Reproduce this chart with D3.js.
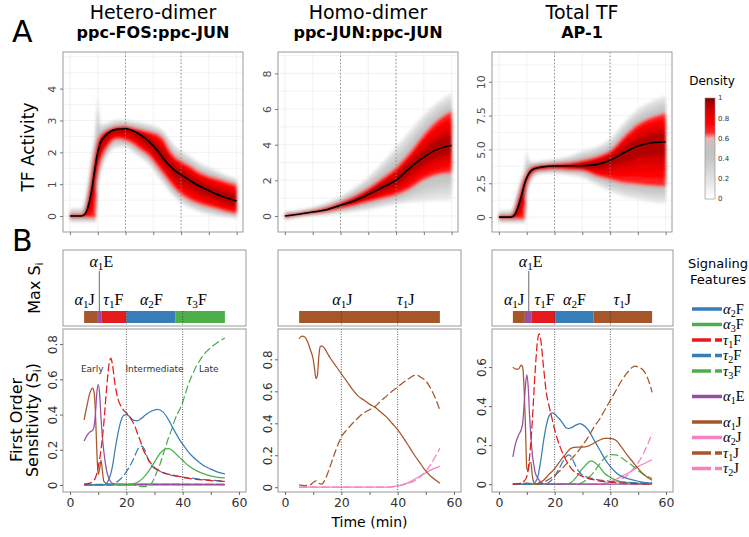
<!DOCTYPE html>
<html><head><meta charset="utf-8">
<script src="https://cdn.jsdelivr.net/npm/d3@7"></script>
<style>body{margin:0;background:#fff}</style>
</head><body>
<svg id="c" width="749" height="537"></svg>
<script>
// ---------------- DATA ----------------
const topTitles = ['Hetero-dimer','Homo-dimer','Total TF'];
const topSubtitles = ['ppc-FOS:ppc-JUN','ppc-JUN:ppc-JUN','AP-1'];

// Panel A: TF activity density bands (time, median, red core band, grey halo band)
const hetT      = [0,4,5,6,7,8,9,9.3,9.7,10,10.5,11,12,14,16.7,20,22,25,28.6,32,34,35.7,38,40.5,43,46.4,49,52.4,56,60];
const hetMed    = [0,0,0.03,0.15,0.45,0.9,1.5,1.65,1.88,2.0,2.15,2.3,2.45,2.62,2.72,2.74,2.7,2.57,2.33,2.0,1.77,1.6,1.42,1.27,1.13,0.95,0.84,0.7,0.58,0.47];
const hetRedLo  = [-0.06,-0.06,-0.06,-0.06,-0.06,-0.06,-0.06,-0.06,1.0,1.2,1.45,1.65,1.9,2.2,2.4,2.36,2.28,2.09,1.85,1.47,1.25,1.05,0.82,0.63,0.5,0.37,0.3,0.22,0.13,0.06];
const hetRedHi  = [0.06,0.06,0.12,0.45,0.95,1.55,2.05,2.2,2.35,2.42,2.5,2.56,2.64,2.74,2.82,2.84,2.8,2.74,2.66,2.56,2.4,2.12,1.86,1.72,1.6,1.4,1.3,1.2,1.1,1.0];
const hetGreyLo = [-0.2,-0.2,-0.2,-0.2,-0.2,-0.2,-0.2,-0.2,0.6,0.9,1.1,1.35,1.6,1.95,2.15,2.15,2.05,1.85,1.6,1.2,0.98,0.78,0.55,0.37,0.25,0.13,0.06,0.0,-0.04,-0.08];
const hetGreyHi = [0.25,0.25,0.4,0.8,1.4,2.1,2.6,2.9,3.5,3.8,3.3,2.9,2.9,2.95,3.02,3.03,3.0,2.95,2.88,2.78,2.65,2.45,2.2,2.05,1.9,1.7,1.58,1.45,1.3,1.18];

const homT      = [0,5,10,15,20,25,30,35,40,45,50,55,60];
const homMed    = [0,0.1,0.22,0.35,0.6,0.85,1.2,1.6,2.0,2.7,3.3,3.75,3.95];
const homRedLo  = [-0.1,0.02,0.12,0.22,0.38,0.55,0.75,0.95,1.15,1.5,2.0,2.3,2.4];
const homRedHi  = [0.1,0.18,0.32,0.5,0.8,1.15,1.6,2.15,2.75,3.6,4.6,5.4,5.9];
const homGreyLo = [-0.25,-0.1,0.0,0.05,0.15,0.25,0.35,0.5,0.65,0.75,0.8,0.85,0.9];
const homGreyHi = [0.25,0.35,0.5,0.75,1.1,1.6,2.2,3.0,3.9,4.8,5.7,6.4,6.9];

const totT      = [0,4,5,6,7,8,9,9.3,9.7,10,11,12,14,16,20,25,30,35,40,45,50,55,60];
const totMed    = [0,0,0.05,0.3,0.8,1.5,2.3,2.5,2.75,2.9,3.3,3.5,3.65,3.72,3.78,3.8,3.8,3.88,4.2,4.75,5.25,5.5,5.55];
const totRedLo  = [-0.15,-0.15,-0.15,-0.15,-0.15,-0.15,-0.15,-0.15,1.6,2.1,2.8,3.15,3.4,3.45,3.5,3.45,3.38,3.0,2.75,2.5,2.4,2.3,2.25];
const totRedHi  = [0.15,0.15,0.3,0.9,1.6,2.3,2.9,3.0,3.15,3.3,3.6,3.75,3.85,3.9,3.98,4.05,4.24,4.5,4.95,6.0,6.9,7.4,7.7];
const totGreyLo = [-0.45,-0.45,-0.45,-0.45,-0.45,-0.45,-0.45,-0.45,1.0,1.5,2.3,2.8,3.1,3.2,3.2,3.1,2.9,2.4,1.9,1.5,1.3,1.1,1.0];
const totGreyHi = [0.5,0.5,0.7,1.4,2.2,2.9,3.5,3.8,4.6,4.8,4.2,4.1,4.15,4.2,4.3,4.5,4.9,5.2,5.8,7.0,8.0,8.6,9.0];

const topYDomains = [[-0.5,5.15],[-0.9,9.2],[-1.1,12.2]];
const topYTicks = [[0,1,2,3,4],[0,2,4,6,8],[0,2.5,5,7.5,10]];
const topYTickLabels = [['0','1','2','3','4'],['0','2','4','6','8'],['0','2.5','5.0','7.5','10']];
const timeTicks = [0,10,20,30,40,50,60];
const timeTickLabels = ['0','','20','','40','','60'];
const phaseTimes = [20,40];

const densityTicks = [0,0.2,0.4,0.6,0.8,1];
const densityStops = [0,0.1,0.25,0.4,0.52,0.6,0.66,0.75,0.85,0.93,1];
const densityColors = ['#ffffff','#f0f0f0','#dadada','#c6c6c6','#c2c2c2','#e6b8b8','#ff2a2a','#ff0000','#e00000','#b80000','#7f0000'];

// Panel B: Max S_i bars
const hetBarFeat  = ['a1J','a1E','t1F','a2F','t3F'];
const hetBarStart = [5,9.6,11.1,20,37.5];
const hetBarEnd   = [9.6,11.1,20,37.5,55];
const hetBarLabels = ['a1J','t1F','a2F','t3F'];
const hetBarLabelT = [5.2,15.4,28.9,45];
const homBarFeat  = ['a1J'];
const homBarStart = [5];
const homBarEnd   = [55];
const homBarLabels = ['a1J','t1J'];
const homBarLabelT = [20.4,42.9];
const totBarFeat  = ['a1J','a1E','t1F','a2F','a1J'];
const totBarStart = [5,9.3,11.8,20.2,34];
const totBarEnd   = [9.3,11.8,20.2,34,55];
const totBarLabels = ['a1J','t1F','a2F','t1J'];
const totBarLabelT = [5.4,16.4,27.1,44.3];
const pointerFeat = 'a1E';
const pointerT = [10.4, null, 10.7];

// First order sensitivity curves [time, S_i]
const het_a2F = [[5,0],[12,0],[13,0.01],[14,0.04],[15,0.1],[16,0.2],[17,0.29],[18,0.36],[19,0.395],[20,0.4],[21,0.39],[22,0.375],[23,0.365],[24,0.365],[25,0.375],[27,0.4],[29,0.42],[31,0.43],[33,0.415],[35,0.37],[37,0.31],[39,0.255],[41,0.21],[43,0.17],[45,0.14],[47,0.115],[50,0.09],[53,0.07],[55,0.063]];
const het_a3F = [[5,0],[20,0],[22,0.005],[24,0.015],[26,0.04],[28,0.08],[30,0.13],[32,0.18],[34,0.205],[35,0.207],[36,0.2],[38,0.17],[40,0.14],[42,0.11],[45,0.08],[48,0.06],[52,0.045],[55,0.04]];
const het_t1F = [[5,0.005],[7,0.01],[8,0.02],[9,0.04],[10,0.1],[11,0.2],[12,0.35],[13,0.55],[14,0.7],[14.5,0.72],[15,0.69],[16,0.57],[17,0.49],[18,0.45],[19,0.425],[20,0.41],[21,0.39],[22,0.365],[23,0.335],[24,0.29],[25,0.25],[26,0.2],[27,0.17],[28,0.14],[30,0.1],[33,0.07],[37,0.055],[41,0.04],[46,0.03],[50,0.025],[55,0.02]];
const het_t2F = [[5,0],[14,0],[16,0.01],[18,0.035],[20,0.075],[22,0.13],[23,0.165],[24,0.2],[25,0.218],[25.5,0.22],[26.5,0.2],[27.5,0.155],[28.5,0.12],[29.5,0.1],[31,0.085],[33,0.07],[36,0.055],[40,0.045],[45,0.035],[50,0.027],[55,0.022]];
const het_t3F = [[5,0],[22,0],[24,-0.005],[26,-0.01],[28,-0.005],[29,0.01],[30,0.04],[31,0.08],[32,0.12],[33,0.17],[34,0.22],[35,0.27],[36,0.31],[37,0.36],[38,0.4],[39,0.43],[40,0.47],[41,0.52],[42,0.57],[43,0.61],[44,0.645],[45,0.68],[46,0.705],[47,0.73],[48,0.75],[50,0.78],[52,0.805],[55,0.835]];
const het_a1E = [[5,0.25],[6,0.28],[7,0.3],[8,0.31],[8.5,0.33],[9,0.4],[9.5,0.52],[10,0.57],[10.5,0.52],[11,0.38],[11.5,0.27],[12,0.19],[12.5,0.13],[13,0.08],[13.5,0.05],[14,0.03],[15,0.01],[17,0.002],[55,0.002]];
const het_a1J = [[5,0.37],[6,0.45],[7,0.52],[8,0.55],[8.5,0.53],[9,0.42],[9.5,0.2],[10,0.06],[10.5,0.09],[11,0.14],[11.5,0.08],[12,0.02],[13,0.008],[15,0.005],[55,0.004]];
const het_a2J = [[5,0.001],[55,0.001]];
const het_t1J = [[5,0.003],[55,0.003]];
const het_t2J = [[5,0.001],[55,0.001]];

const hom_a1J = [[5,0.93],[6,0.945],[7,0.94],[8,0.91],[9,0.86],[10,0.8],[10.5,0.74],[11,0.68],[11.5,0.7],[12,0.82],[12.5,0.88],[13,0.885],[14,0.87],[15,0.84],[16,0.81],[18,0.76],[20,0.71],[22,0.66],[24,0.61],[26,0.57],[28,0.545],[30,0.52],[32,0.5],[34,0.47],[36,0.44],[38,0.4],[40,0.36],[42,0.31],[44,0.255],[46,0.2],[48,0.15],[50,0.1],[52,0.065],[55,0.025]];
const hom_t1J = [[5,0.015],[7,0.01],[9,0.015],[10,0.03],[11,0.04],[12,0.025],[13,0.02],[14,0.04],[15,0.08],[16,0.13],[17,0.18],[18,0.23],[19,0.275],[20,0.315],[22,0.36],[24,0.4],[26,0.435],[28,0.465],[30,0.485],[32,0.505],[34,0.54],[36,0.57],[38,0.6],[40,0.628],[42,0.655],[44,0.68],[46,0.7],[47,0.7],[48,0.69],[50,0.665],[52,0.61],[54,0.53],[55,0.48]];
const hom_a2J = [[5,0],[36,0],[38,0.002],[40,0.008],[42,0.018],[44,0.03],[46,0.05],[48,0.07],[50,0.09],[52,0.11],[55,0.13]];
const hom_t2J = [[5,0],[36,0],[38,0.002],[40,0.008],[42,0.015],[44,0.025],[46,0.04],[48,0.065],[50,0.1],[52,0.15],[55,0.245]];

const tot_a2F = [[5,0],[12,0],[13,0.01],[14,0.04],[15,0.12],[16,0.22],[17,0.3],[18,0.35],[19,0.365],[20,0.36],[21,0.345],[22,0.33],[23,0.31],[24,0.29],[25,0.285],[26,0.29],[28,0.305],[29,0.31],[30,0.305],[32,0.28],[34,0.23],[36,0.18],[38,0.13],[40,0.09],[42,0.06],[44,0.04],[46,0.03],[50,0.015],[55,0.005]];
const tot_a3F = [[5,0],[24,0],[26,0.01],[28,0.04],[30,0.08],[32,0.11],[33,0.12],[34,0.115],[36,0.09],[38,0.055],[40,0.035],[42,0.02],[45,0.01],[50,0.005],[55,0.002]];
const tot_t1F = [[5,0],[8,0.005],[9,0.015],[10,0.04],[11,0.14],[12,0.33],[13,0.58],[14,0.75],[14.5,0.77],[15,0.74],[16,0.6],[17,0.47],[18,0.4],[19,0.34],[20,0.28],[21,0.23],[22,0.19],[23,0.155],[24,0.125],[26,0.08],[28,0.055],[30,0.04],[35,0.02],[40,0.01],[45,0.005],[55,0.0]];
const tot_t2F = [[5,0],[16,0],[18,0.01],[20,0.04],[22,0.09],[24,0.14],[25,0.15],[26,0.14],[27,0.11],[28,0.08],[29,0.06],[30,0.045],[32,0.035],[35,0.025],[40,0.015],[45,0.01],[55,0.005]];
const tot_t3F = [[5,0],[28,0],[30,0.01],[32,0.03],[34,0.06],[36,0.1],[38,0.135],[40,0.152],[42,0.15],[44,0.135],[46,0.115],[48,0.095],[50,0.07],[52,0.05],[55,0.03]];
const tot_a1E = [[5,0.14],[6,0.21],[7,0.25],[8,0.28],[8.5,0.31],[9,0.4],[9.5,0.5],[10,0.56],[10.5,0.5],[11,0.35],[11.5,0.24],[12,0.15],[12.5,0.1],[13,0.06],[14,0.03],[15,0.01],[17,0.0],[55,0]];
const tot_a1J = [[5,0.6],[6,0.59],[7,0.59],[8,0.61],[8.5,0.6],[9,0.5],[9.5,0.3],[10,0.08],[10.5,0.07],[11,0.11],[11.5,0.11],[12,0.04],[12.5,0.01],[13,0.0],[14,0.005],[16,0.02],[18,0.05],[20,0.08],[22,0.12],[24,0.155],[26,0.185],[28,0.19],[30,0.19],[32,0.195],[34,0.21],[36,0.225],[38,0.235],[40,0.235],[42,0.225],[44,0.19],[46,0.15],[48,0.115],[50,0.08],[52,0.05],[55,0.02]];
const tot_t1J = [[5,0.0],[10,0.005],[14,0.0],[16,0.01],[18,0.025],[20,0.045],[22,0.07],[24,0.1],[26,0.13],[28,0.16],[30,0.2],[32,0.24],[34,0.29],[36,0.33],[38,0.38],[40,0.43],[42,0.48],[44,0.53],[46,0.57],[48,0.6],[49,0.605],[50,0.6],[52,0.58],[54,0.52],[55,0.47]];
const tot_a2J = [[5,0],[36,0],[38,0.005],[40,0.012],[42,0.025],[44,0.04],[46,0.055],[48,0.07],[50,0.09],[52,0.105],[55,0.125]];
const tot_t2J = [[5,0],[36,0],[38,0.002],[40,0.006],[42,0.012],[44,0.025],[46,0.045],[48,0.075],[50,0.11],[52,0.16],[55,0.26]];

const botYDomains = [[-0.04,0.886],[-0.03,0.99],[-0.04,0.795]];
const botYTicks = [[0,0.2,0.4,0.6,0.8],[0,0.2,0.4,0.6,0.8],[0,0.2,0.4,0.6]];
const phaseLabels = ['Early','Intermediate','Late'];
const phaseLabelT = [7.9,30,49.3];
const phaseLabelV = [0.64,0.64,0.64];

const legendKeys = ['a2F','a3F','t1F','t2F','t3F','a1E','a1J','a2J','t1J','t2J'];
const legendGroup = [0,0,0,0,0,1,2,2,2,2];

// ---------------- STYLE / LAYOUT ----------------
const C = {blue:'#377eb8',green:'#4daf4a',red:'#e41a1c',purple:'#984ea3',brown:'#a65628',pink:'#f781bf'};
const FEAT = {
  a2F:{c:C.blue,dash:false}, a3F:{c:C.green,dash:false}, t1F:{c:C.red,dash:true},
  t2F:{c:C.blue,dash:true}, t3F:{c:C.green,dash:true}, a1E:{c:C.purple,dash:false},
  a1J:{c:C.brown,dash:false}, a2J:{c:C.pink,dash:false}, t1J:{c:C.brown,dash:true}, t2J:{c:C.pink,dash:true}
};
const SANS = '"DejaVu Sans", Verdana, sans-serif';
const SERIF = '"Liberation Serif", "DejaVu Serif", serif';
const cols = [
  {top:[63,243], bot:[63,246]},
  {top:[278,458], bot:[278,461]},
  {top:[492,672], bot:[492,673]}
];
const TOP = [52,232], BAR = [250,326], BARS = [311,323], BOT = [329,492];

const svg = d3.select('#c');
const defs = svg.append('defs');
defs.append('filter').attr('id','blurD').attr('x','-5%').attr('y','-5%').attr('width','110%').attr('height','110%')
  .append('feGaussianBlur').attr('stdDeviation',1.6);

const densColor = d3.scaleLinear().domain(densityStops).range(densityColors);

// math-style feature label: greek (italic) + subscript digit + roman letter
function mathLabel(sel, key, fs){
  const g = {a:'α', t:'τ'}[key[0]];
  sel.append('tspan').attr('font-style','italic').text(g);
  sel.append('tspan').attr('font-size',(fs*0.7).toFixed(1)).attr('baseline-shift','-25%').text(key[1]);
  sel.append('tspan').text(key[2]);
}

// ---------------- TOP ROW (A) ----------------
const topBands = [
  [hetT,hetMed,hetRedLo,hetRedHi,hetGreyLo,hetGreyHi],
  [homT,homMed,homRedLo,homRedHi,homGreyLo,homGreyHi],
  [totT,totMed,totRedLo,totRedHi,totGreyLo,totGreyHi]
];
topBands.forEach((b,i)=>{
  const [x0,x1] = cols[i].top;
  const x = d3.scaleLinear().domain([-2.5,62.3]).range([x0,x1]);
  const y = d3.scaleLinear().domain(topYDomains[i]).range([TOP[1],TOP[0]]);
  const g = svg.append('g');
  const cid = 'clipTop'+i;
  defs.append('clipPath').attr('id',cid).append('rect').attr('x',x0).attr('y',TOP[0]).attr('width',x1-x0).attr('height',TOP[1]-TOP[0]);
  const grid = g.append('g').attr('stroke','#efefef').attr('stroke-width',0.8);
  d3.range(0,61,10).forEach(t=> grid.append('line').attr('x1',x(t)).attr('x2',x(t)).attr('y1',TOP[0]).attr('y2',TOP[1]));
  const yt = topYTicks[i]; const step = yt[1]-yt[0];
  d3.range(yt[0], topYDomains[i][1], step/2).forEach(v=> grid.append('line').attr('x1',x0).attr('x2',x1).attr('y1',y(v)).attr('y2',y(v)));
  const [T,med,rlo,rhi,glo,ghi] = b;
  const rows = T.map((t,k)=>({t,med:med[k],rlo:rlo[k],rhi:rhi[k],glo:glo[k],ghi:ghi[k]}));
  const dg = g.append('g').attr('clip-path',`url(#${cid})`).append('g').attr('filter','url(#blurD)');
  const levels = [];
  const NO = 9;
  for(let k=0;k<NO;k++){ const f=k/NO; levels.push({lo:r=>r.glo+(r.rlo-r.glo)*f, hi:r=>r.ghi+(r.rhi-r.ghi)*f, d:0.14+0.38*f}); }
  const NI = 4;
  for(let k=0;k<=NI;k++){ const f=k/NI*0.7; levels.push({lo:r=>r.rlo+(r.med-r.rlo)*f, hi:r=>r.rhi+(r.med-r.rhi)*f, d:0.68+0.26*k/NI}); }
  levels.forEach(L=>{
    const area = d3.area().curve(d3.curveMonotoneX).x(r=>x(r.t)).y0(r=>y(L.lo(r))).y1(r=>y(L.hi(r)));
    dg.append('path').attr('d',area(rows)).attr('fill',densColor(L.d));
  });
  phaseTimes.forEach(t=> g.append('line').attr('x1',x(t)).attr('x2',x(t)).attr('y1',TOP[0]).attr('y2',TOP[1])
    .attr('stroke','#888').attr('stroke-width',0.9).attr('stroke-dasharray','1.5,2'));
  const line = d3.line().curve(d3.curveMonotoneX).x(r=>x(r.t)).y(r=>y(r.med));
  g.append('path').attr('d',line(rows)).attr('fill','none').attr('stroke','#000').attr('stroke-width',1.6);
  g.append('rect').attr('x',x0).attr('y',TOP[0]).attr('width',x1-x0).attr('height',TOP[1]-TOP[0]).attr('fill','none').attr('stroke','#9a9a9a');
  const xa = g.append('g').attr('transform',`translate(0,${TOP[1]})`).call(d3.axisBottom(x).tickValues(timeTicks).tickSize(3).tickFormat(''));
  xa.select('.domain').remove(); xa.selectAll('line').attr('stroke','#777');
  const ya = g.append('g').attr('transform',`translate(${x0},0)`).call(d3.axisLeft(y).tickValues(yt).tickSize(3).tickFormat((d,k)=>topYTickLabels[i][k]));
  ya.select('.domain').remove(); ya.selectAll('line').attr('stroke','#777');
  ya.selectAll('text').attr('transform','rotate(-90)').attr('x',0).attr('y',-7).attr('dy',0)
    .attr('text-anchor','middle').attr('font-family',SANS).attr('font-size',11).attr('fill','#4d4d4d');
  const cx = (x0+x1)/2;
  svg.append('text').attr('x',cx).attr('y',19).attr('text-anchor','middle').attr('font-family',SANS).attr('font-size',19).text(topTitles[i]);
  svg.append('text').attr('x',cx).attr('y',38).attr('text-anchor','middle').attr('font-family',SANS).attr('font-weight','bold').attr('font-size',16).text(topSubtitles[i]);
});

// density colourbar
svg.append('text').attr('x',712).attr('y',85).attr('text-anchor','middle').attr('font-family',SANS).attr('font-size',12).text('Density');
const grad = defs.append('linearGradient').attr('id','densGrad').attr('x1',0).attr('x2',0).attr('y1',1).attr('y2',0);
densityStops.forEach((s,k)=> grad.append('stop').attr('offset',s).attr('stop-color',densityColors[k]));
const cbY = d3.scaleLinear().domain([0,1]).range([199,98]);
svg.append('rect').attr('x',705).attr('y',cbY(1)).attr('width',10).attr('height',cbY(0)-cbY(1)).attr('fill','url(#densGrad)').attr('stroke','#888').attr('stroke-width',0.6);
densityTicks.forEach(v=> svg.append('text').attr('x',718).attr('y',cbY(v)).attr('dy','0.35em').attr('font-family',SANS).attr('font-size',7).attr('fill','#333').text(v===0?'0':v===1?'1':v.toFixed(1)));

// ---------------- MIDDLE ROW (B bars) ----------------
const barSets = [
  [hetBarFeat,hetBarStart,hetBarEnd,hetBarLabels,hetBarLabelT],
  [homBarFeat,homBarStart,homBarEnd,homBarLabels,homBarLabelT],
  [totBarFeat,totBarStart,totBarEnd,totBarLabels,totBarLabelT]
];
barSets.forEach((b,i)=>{
  const [x0,x1] = cols[i].bot;
  const x = d3.scaleLinear().domain([-2.5,62.5]).range([x0,x1]);
  const g = svg.append('g');
  g.append('rect').attr('x',x0).attr('y',BAR[0]).attr('width',x1-x0).attr('height',BAR[1]-BAR[0]).attr('fill','none').attr('stroke','#9a9a9a');
  const [feat,st,en,labs,labT] = b;
  feat.forEach((f,k)=> g.append('rect').attr('x',x(st[k])).attr('y',BARS[0]).attr('width',x(en[k])-x(st[k])).attr('height',BARS[1]-BARS[0]).attr('fill',FEAT[f].c));
  labs.forEach((f,k)=>{ const t=g.append('text').attr('x',x(labT[k])).attr('y',305).attr('text-anchor','middle').attr('font-family',SERIF).attr('font-size',16); mathLabel(t,f,16); });
  if(pointerT[i]!==null){
    g.append('line').attr('x1',x(pointerT[i])).attr('x2',x(pointerT[i])).attr('y1',271).attr('y2',BARS[0]).attr('stroke','#444').attr('stroke-width',0.8);
    const t=g.append('text').attr('x',x(pointerT[i])+2).attr('y',267).attr('text-anchor','middle').attr('font-family',SERIF).attr('font-size',16); mathLabel(t,pointerFeat,16);
  }
  phaseTimes.forEach(t=> g.append('line').attr('x1',x(t)).attr('x2',x(t)).attr('y1',BARS[0]).attr('y2',BAR[1]).attr('stroke','#333').attr('stroke-width',0.8).attr('stroke-dasharray','1,1.5'));
});

// ---------------- BOTTOM ROW (sensitivities) ----------------
const botSeries = [
  [['t2J',het_t2J],['a2J',het_a2J],['t1J',het_t1J],['a1J',het_a1J],['a1E',het_a1E],['a3F',het_a3F],['t3F',het_t3F],['t2F',het_t2F],['a2F',het_a2F],['t1F',het_t1F]],
  [['a2J',hom_a2J],['t2J',hom_t2J],['a1J',hom_a1J],['t1J',hom_t1J]],
  [['a2J',tot_a2J],['t2J',tot_t2J],['a3F',tot_a3F],['t3F',tot_t3F],['t2F',tot_t2F],['a2F',tot_a2F],['t1J',tot_t1J],['a1J',tot_a1J],['a1E',tot_a1E],['t1F',tot_t1F]]
];
botSeries.forEach((series,i)=>{
  const [x0,x1] = cols[i].bot;
  const x = d3.scaleLinear().domain([-2.5,62.5]).range([x0,x1]);
  const y = d3.scaleLinear().domain(botYDomains[i]).range([BOT[1],BOT[0]]);
  const g = svg.append('g');
  const cid='clipBot'+i;
  defs.append('clipPath').attr('id',cid).append('rect').attr('x',x0).attr('y',BOT[0]).attr('width',x1-x0).attr('height',BOT[1]-BOT[0]);
  const lg = g.append('g').attr('clip-path',`url(#${cid})`);
  const line = d3.line().curve(d3.curveMonotoneX).x(d=>x(d[0])).y(d=>y(d[1]));
  series.forEach(([k,data])=>{
    lg.append('path').attr('d',line(data)).attr('fill','none').attr('stroke',FEAT[k].c).attr('stroke-width',1.25)
      .attr('stroke-dasharray',FEAT[k].dash?'8,3':null);
  });
  phaseTimes.forEach(t=> g.append('line').attr('x1',x(t)).attr('x2',x(t)).attr('y1',BOT[0]).attr('y2',BOT[1]).attr('stroke','#333').attr('stroke-width',0.8).attr('stroke-dasharray','1,1.5'));
  g.append('rect').attr('x',x0).attr('y',BOT[0]).attr('width',x1-x0).attr('height',BOT[1]-BOT[0]).attr('fill','none').attr('stroke','#9a9a9a');
  const xa = g.append('g').attr('transform',`translate(0,${BOT[1]})`).call(d3.axisBottom(x).tickValues(timeTicks).tickSize(3).tickPadding(3).tickFormat((d,k)=>timeTickLabels[k]));
  xa.select('.domain').remove(); xa.selectAll('line').attr('stroke','#666');
  xa.selectAll('text').attr('font-family',SANS).attr('font-size',12.5).attr('fill','#333');
  const ya = g.append('g').attr('transform',`translate(${x0},0)`).call(d3.axisLeft(y).tickValues(botYTicks[i]).tickSize(3).tickFormat(d=>d===0?'0':d.toFixed(1)));
  ya.select('.domain').remove(); ya.selectAll('line').attr('stroke','#666');
  ya.selectAll('text').attr('transform','rotate(-90)').attr('x',0).attr('y',-6).attr('dy',0)
    .attr('text-anchor','middle').attr('font-family',SANS).attr('font-size',12).attr('fill','#333');
  if(i===0){
    phaseLabels.forEach((s,k)=> g.append('text').attr('x',x(phaseLabelT[k])).attr('y',y(phaseLabelV[k])).attr('text-anchor','middle')
      .attr('font-family',SANS).attr('font-size',9).attr('fill','#333').text(s));
  }
  if(i===1){
    g.append('text').attr('x',(x0+x1)/2).attr('y',527).attr('text-anchor','middle').attr('font-family',SANS).attr('font-size',14).text('Time (min)');
  }
});

// ---------------- labels ----------------
svg.append('text').attr('x',12).attr('y',42).attr('font-family',SANS).attr('font-size',30).text('A');
svg.append('text').attr('x',12).attr('y',251).attr('font-family',SANS).attr('font-size',30).text('B');
svg.append('text').attr('transform','translate(34,147) rotate(-90)').attr('text-anchor','middle').attr('font-family',SANS).attr('font-size',17).text('TF Activity');
const ms = svg.append('text').attr('transform','translate(40,288) rotate(-90)').attr('text-anchor','middle').attr('font-family',SANS).attr('font-size',16);
ms.append('tspan').text('Max S'); ms.append('tspan').attr('font-size',11).attr('baseline-shift','-25%').text('i');
svg.append('text').attr('transform','translate(22,420) rotate(-90)').attr('text-anchor','middle').attr('font-family',SANS).attr('font-size',16).text('First Order');
const so = svg.append('text').attr('transform','translate(38,420) rotate(-90)').attr('text-anchor','middle').attr('font-family',SANS).attr('font-size',16);
so.append('tspan').text('Sensitivity (S'); so.append('tspan').attr('font-size',11).attr('baseline-shift','-25%').text('i'); so.append('tspan').text(')');

// legend
svg.append('text').attr('x',718).attr('y',268).attr('text-anchor','middle').attr('font-family',SANS).attr('font-size',13).text('Signaling');
svg.append('text').attr('x',718).attr('y',284).attr('text-anchor','middle').attr('font-family',SANS).attr('font-size',13).text('Features');
let ly = 309, prevG = 0;
legendKeys.forEach((k,idx)=>{
  if(idx>0){ ly += 15.5; if(legendGroup[idx]!==prevG) ly += 10; }
  prevG = legendGroup[idx];
  svg.append('line').attr('x1',692).attr('x2',722).attr('y1',ly).attr('y2',ly).attr('stroke',FEAT[k].c).attr('stroke-width',3.5)
    .attr('stroke-dasharray',FEAT[k].dash?'19,4':null);
  const t = svg.append('text').attr('x',723).attr('y',ly+4.5).attr('font-family',SERIF).attr('font-size',14.5);
  mathLabel(t,k,14.5);
});
</script></body></html>
